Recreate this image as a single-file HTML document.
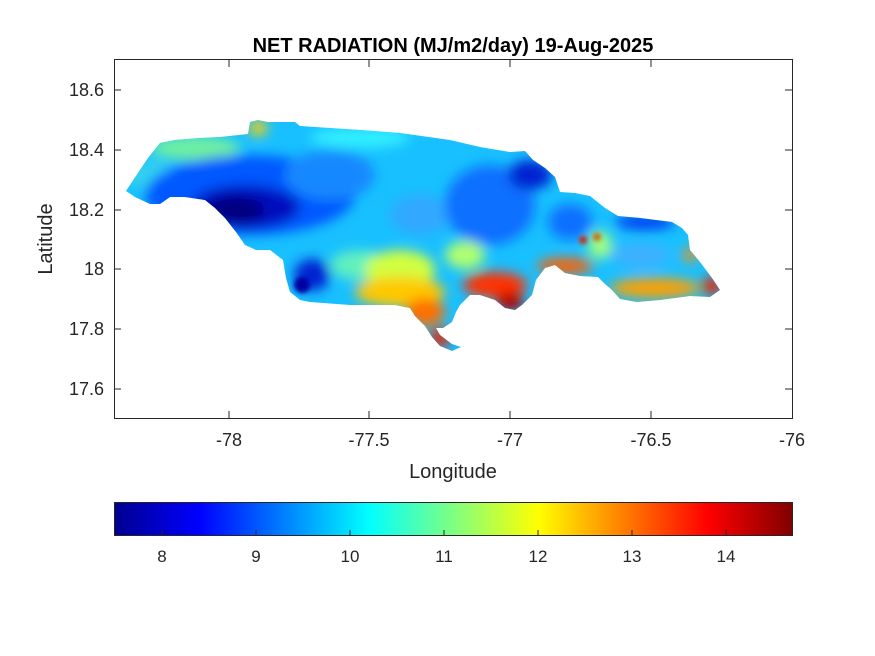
<!DOCTYPE html>
<html><head><meta charset="utf-8"><style>
body{margin:0;background:#fff;}
svg{display:block;font-family:"Liberation Sans",Arial,sans-serif;}
</style></head><body>
<svg width="875" height="656" viewBox="0 0 875 656" xmlns="http://www.w3.org/2000/svg">
<defs>
<clipPath id="isl"><path d="M126,191 L130,185 L140,170 L148,158 L160,143 L175,140 L200,138 L220,137 L248,134 L250,122 L258,120 L268,122 L295,122 L300,126 L330,128 L360,130 L400,133 L450,140 L480,147 L510,152 L525,151 L533,160 L545,168 L555,177 L560,192 L575,193 L590,196 L605,208 L618,216 L640,218 L672,222 L682,228 L688,235 L690,250 L700,262 L712,278 L720,290 L710,297 L690,296 L660,300 L637,302 L620,299 L612,290 L605,284 L598,277 L580,276 L565,273 L555,265 L545,268 L536,280 L532,295 L522,305 L515,310 L505,308 L495,300 L480,295 L470,295 L460,305 L456,312 L452,322 L443,328 L436,328 L440,335 L452,344 L461,347 L452,351 L440,346 L432,337 L425,326 L415,316 L410,308 L395,305 L350,305 L310,302 L300,300 L290,292 L286,278 L283,260 L270,250 L256,250 L245,245 L236,232 L225,218 L215,208 L205,200 L185,197 L170,197 L160,204 L150,204 L135,197 Z"/></clipPath>
<filter id="b" x="-20%" y="-20%" width="140%" height="140%"><feGaussianBlur stdDeviation="6"/></filter>
<filter id="b2" x="-50%" y="-50%" width="200%" height="200%"><feGaussianBlur stdDeviation="2.5"/></filter>
<linearGradient id="jet" x1="0" x2="1">
<stop offset="0" stop-color="#00008f"/>
<stop offset="0.125" stop-color="#0000ff"/>
<stop offset="0.375" stop-color="#00ffff"/>
<stop offset="0.625" stop-color="#ffff00"/>
<stop offset="0.875" stop-color="#ff0000"/>
<stop offset="1" stop-color="#800000"/>
</linearGradient>
</defs>
<rect width="875" height="656" fill="#fff"/>
<g clip-path="url(#isl)">
<rect x="110" y="110" width="620" height="250" fill="#18c0ff"/>
<g filter="url(#b)">
<ellipse cx="195" cy="148" rx="45" ry="12" fill="#70f0a0"/>
<ellipse cx="150" cy="175" rx="25" ry="15" fill="#30d0f0"/>
<ellipse cx="258" cy="128" rx="9" ry="8" fill="#ffd000"/>
<ellipse cx="250" cy="195" rx="105" ry="40" fill="#0058ff"/>
<ellipse cx="330" cy="175" rx="45" ry="25" fill="#1888ff"/>
<ellipse cx="245" cy="207" rx="55" ry="22" fill="#0010c0"/>
<ellipse cx="235" cy="210" rx="30" ry="14" fill="#000080"/>
<ellipse cx="360" cy="138" rx="50" ry="10" fill="#30f0ff"/>
<ellipse cx="420" cy="215" rx="30" ry="20" fill="#30a8ff"/>
<ellipse cx="490" cy="205" rx="45" ry="40" fill="#1070ff"/>
<ellipse cx="530" cy="175" rx="22" ry="15" fill="#0020d0"/>
<ellipse cx="312" cy="275" rx="18" ry="16" fill="#0020d0"/>
<ellipse cx="360" cy="265" rx="30" ry="15" fill="#60f0c0"/>
<ellipse cx="400" cy="270" rx="35" ry="20" fill="#d0ff40"/>
<ellipse cx="400" cy="292" rx="45" ry="15" fill="#ffc800"/>
<ellipse cx="425" cy="312" rx="20" ry="14" fill="#ff7000"/>
<ellipse cx="440" cy="338" rx="10" ry="10" fill="#e82000"/>
<ellipse cx="465" cy="255" rx="20" ry="14" fill="#b0ff70"/>
<ellipse cx="495" cy="285" rx="32" ry="13" fill="#ff3000"/>
<ellipse cx="510" cy="302" rx="14" ry="9" fill="#b00000"/>
<ellipse cx="565" cy="266" rx="28" ry="8" fill="#ff6000"/>
<ellipse cx="570" cy="222" rx="22" ry="18" fill="#1070ff"/>
<ellipse cx="600" cy="245" rx="12" ry="14" fill="#a0ff80"/>
<ellipse cx="645" cy="222" rx="30" ry="8" fill="#0040f0"/>
<ellipse cx="640" cy="255" rx="30" ry="12" fill="#40b0ff"/>
<ellipse cx="655" cy="288" rx="45" ry="10" fill="#ffa000"/>
<ellipse cx="712" cy="286" rx="10" ry="9" fill="#e82000"/>
<ellipse cx="690" cy="255" rx="7" ry="7" fill="#ff9000"/>
</g>
<g filter="url(#b2)">
<circle cx="583" cy="240" r="4" fill="#d02000"/>
<circle cx="597" cy="237" r="4" fill="#e06000"/>
<circle cx="302" cy="285" r="8" fill="#0000a0"/>
</g>
</g>
<rect x="114.5" y="59.5" width="678" height="359" fill="none" stroke="#262626" stroke-width="1"/>
<g stroke="#262626">
<line x1="229" y1="418" x2="229" y2="411"/><line x1="369" y1="418" x2="369" y2="411"/><line x1="510" y1="418" x2="510" y2="411"/><line x1="651" y1="418" x2="651" y2="411"/>
<line x1="229" y1="60" x2="229" y2="67"/><line x1="369" y1="60" x2="369" y2="67"/><line x1="510" y1="60" x2="510" y2="67"/><line x1="651" y1="60" x2="651" y2="67"/>
<line x1="114" y1="90" x2="121" y2="90"/><line x1="114" y1="150" x2="121" y2="150"/><line x1="114" y1="210" x2="121" y2="210"/><line x1="114" y1="269" x2="121" y2="269"/><line x1="114" y1="329" x2="121" y2="329"/><line x1="114" y1="389" x2="121" y2="389"/>
<line x1="792" y1="90" x2="785" y2="90"/><line x1="792" y1="150" x2="785" y2="150"/><line x1="792" y1="210" x2="785" y2="210"/><line x1="792" y1="269" x2="785" y2="269"/><line x1="792" y1="329" x2="785" y2="329"/><line x1="792" y1="389" x2="785" y2="389"/>
</g>
<g font-size="18" fill="#262626" text-anchor="middle">
<text x="229" y="446">-78</text><text x="369" y="446">-77.5</text><text x="510" y="446">-77</text><text x="651" y="446">-76.5</text><text x="792" y="446">-76</text>
</g>
<g font-size="18" fill="#262626" text-anchor="end">
<text x="104" y="96">18.6</text><text x="104" y="156">18.4</text><text x="104" y="216">18.2</text><text x="104" y="275">18</text><text x="104" y="335">17.8</text><text x="104" y="395">17.6</text>
</g>
<text x="453" y="478" font-size="20" fill="#262626" text-anchor="middle">Longitude</text>
<text transform="translate(52,239) rotate(-90)" font-size="20" fill="#262626" text-anchor="middle">Latitude</text>
<text x="453" y="52" font-size="20" font-weight="bold" fill="#000" text-anchor="middle">NET RADIATION (MJ/m2/day) 19-Aug-2025</text>
<rect x="114.5" y="502.5" width="678" height="33" fill="url(#jet)" stroke="#262626"/>
<g stroke="#262626">
<line x1="162" y1="535" x2="162" y2="530"/><line x1="256" y1="535" x2="256" y2="530"/><line x1="350" y1="535" x2="350" y2="530"/><line x1="444" y1="535" x2="444" y2="530"/><line x1="538" y1="535" x2="538" y2="530"/><line x1="632" y1="535" x2="632" y2="530"/><line x1="726" y1="535" x2="726" y2="530"/>
</g>
<g font-size="17" fill="#262626" text-anchor="middle">
<text x="162" y="562">8</text><text x="256" y="562">9</text><text x="350" y="562">10</text><text x="444" y="562">11</text><text x="538" y="562">12</text><text x="632" y="562">13</text><text x="726" y="562">14</text>
</g>
</svg>
</body></html>
